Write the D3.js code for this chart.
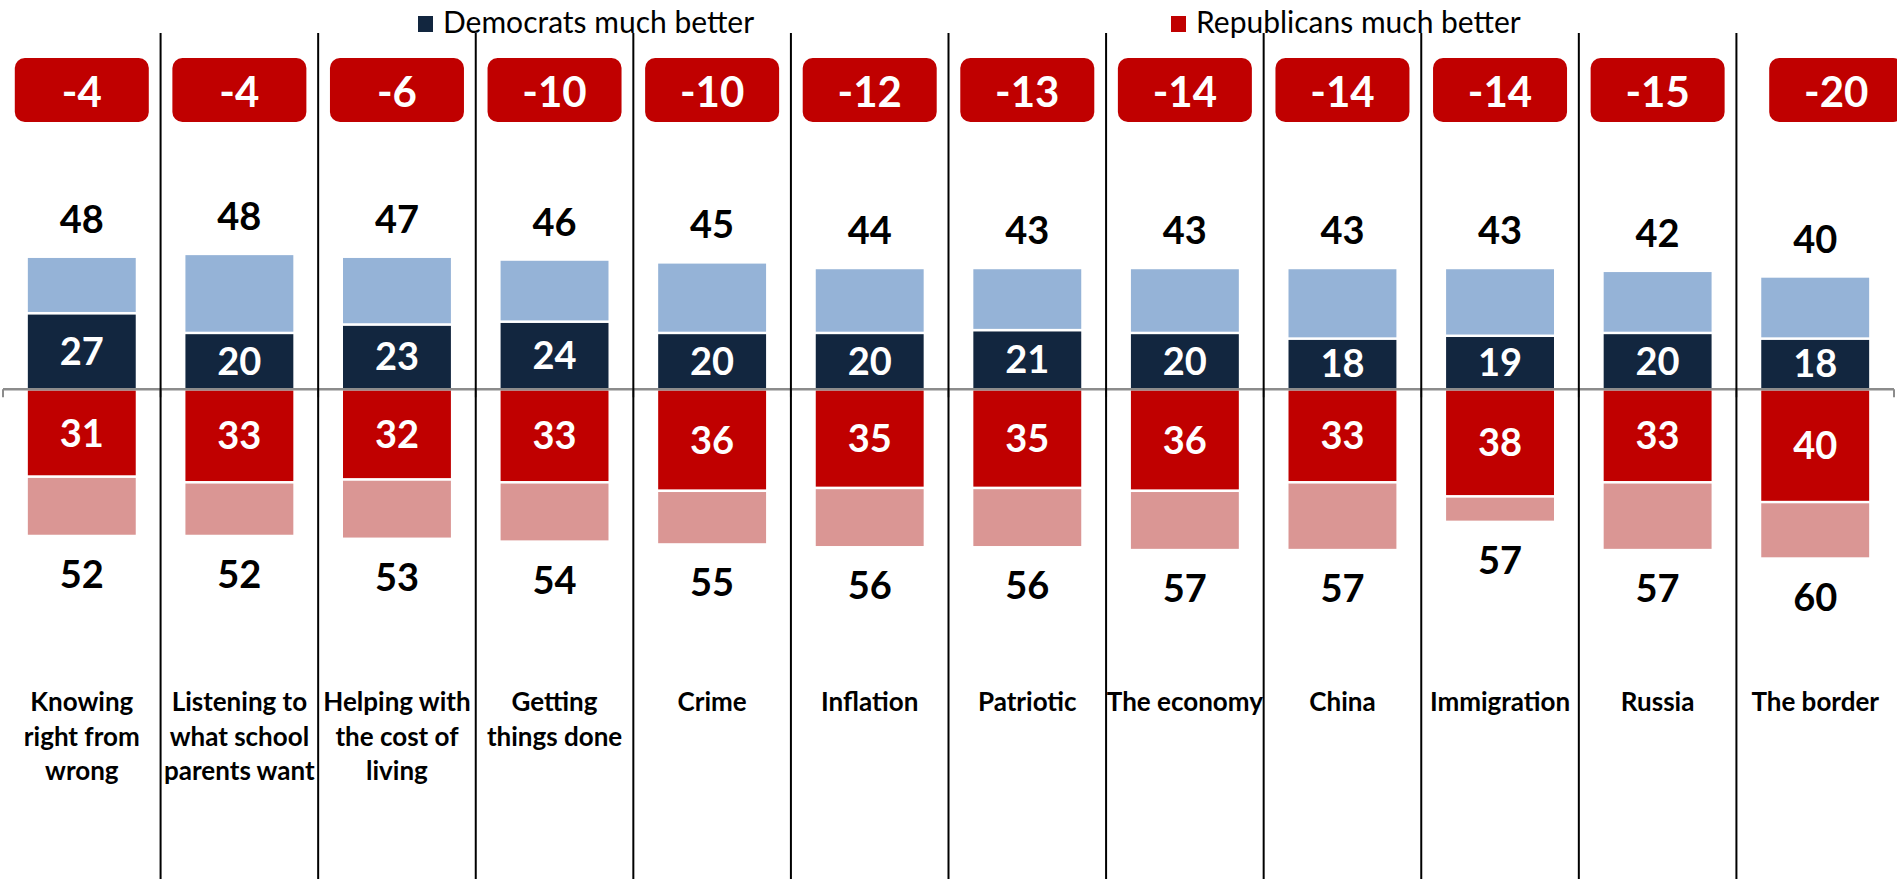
<!DOCTYPE html>
<html><head><meta charset="utf-8">
<script src="https://cdn.jsdelivr.net/npm/d3@7/dist/d3.min.js"></script>
<style>html,body{margin:0;padding:0;background:#fff;} svg{display:block;}</style>
</head><body>
<svg id="chart" width="1897" height="879"></svg>
<script>
// ---------------- data ----------------
const categories = [
  "Knowing\nright from\nwrong",
  "Listening to\nwhat school\nparents want",
  "Helping with\nthe cost of\nliving",
  "Getting\nthings done",
  "Crime",
  "Inflation",
  "Patriotic",
  "The economy",
  "China",
  "Immigration",
  "Russia",
  "The border"
];
const demMuchBetter     = [27, 20, 23, 24, 20, 20, 21, 20, 18, 19, 20, 18];
const demSomewhatBetter = [20, 28, 24, 22, 25, 23, 22, 23, 25, 24, 22, 22];
const repMuchBetter     = [31, 33, 32, 33, 36, 35, 35, 36, 33, 38, 33, 40];
const repSomewhatBetter = [21, 19, 21, 21, 19, 21, 21, 21, 24,  9, 24, 20];
const demTotalLabels    = [48, 48, 47, 46, 45, 44, 43, 43, 43, 43, 42, 40];
const repTotalLabels    = [52, 52, 53, 54, 55, 56, 56, 57, 57, 57, 57, 60];
const netLabels         = [-4, -4, -6, -10, -10, -12, -13, -14, -14, -14, -15, -20];
const legendLabels      = ["Democrats much better", "Republicans much better"];

// ---------------- setup ----------------
const W = 1897, H = 879;
const FONT = "Lato, 'Open Sans', 'Liberation Sans', sans-serif";
const C = {
  demMuch: "#12263F", demSome: "#95B3D7",
  repMuch: "#C00000", repSome: "#DA9694",
  axis: "#8C8C8C"
};
const svg = d3.select("#chart");
svg.append("rect").attr("width", W).attr("height", H).attr("fill", "#fff");

const n = categories.length;
const x = d3.scaleBand().domain(d3.range(n)).range([3, 1894])
  .paddingInner(0.3).paddingOuter(0.15);
const y = d3.scaleLinear().domain([-60, 60]).range([389.3 + 60 * 2.82, 389.3 - 60 * 2.82]);

const rows = d3.range(n).map(i => ({
  i,
  demMuch: demMuchBetter[i],
  demSome: demSomewhatBetter[i],
  repMuch: -repMuchBetter[i],
  repSome: -repSomewhatBetter[i]
}));
const keys = ["demMuch", "demSome", "repMuch", "repSome"];
const series = d3.stack().keys(keys).offset(d3.stackOffsetDiverging)(rows);

// ---------------- bars ----------------
const gBars = svg.append("g");
series.forEach(s => {
  gBars.selectAll(null).data(s).join("rect")
    .attr("x", d => x(d.data.i))
    .attr("width", x.bandwidth())
    .attr("y", d => y(Math.max(d[0], d[1])))
    .attr("height", d => Math.abs(y(d[0]) - y(d[1])))
    .attr("fill", C[s.key])
    .attr("stroke", "#fff")
    .attr("stroke-width", 2.4);
});

// ---------------- axis (ticks on category boundaries) ----------------
const bounds = d3.range(n + 1).map(i => x.range()[0] + i * x.step());
const gAxis = svg.append("g");
gAxis.append("line")
  .attr("x1", bounds[0]).attr("x2", bounds[n])
  .attr("y1", y(0)).attr("y2", y(0))
  .attr("stroke", C.axis).attr("stroke-width", 2.5);
gAxis.selectAll(null).data(bounds).join("line")
  .attr("x1", d => d).attr("x2", d => d)
  .attr("y1", y(0)).attr("y2", y(0) + 8)
  .attr("stroke", C.axis).attr("stroke-width", 2);

// ---------------- separators ----------------
svg.append("g").selectAll(null).data(bounds.slice(1, n)).join("line")
  .attr("x1", d => d).attr("x2", d => d)
  .attr("y1", 33).attr("y2", H)
  .attr("stroke", "#000").attr("stroke-width", 2);

// ---------------- value labels ----------------
const cx = i => x(i) + x.bandwidth() / 2;
const gLab = svg.append("g").attr("font-family", FONT).attr("font-weight", 700)
  .attr("text-anchor", "middle");

// inside navy
gLab.selectAll(null).data(rows).join("text")
  .attr("x", d => cx(d.i))
  .attr("y", d => (y(0) + y(d.demMuch)) / 2 + 13.5)
  .attr("font-size", 38).attr("fill", "#fff")
  .text(d => demMuchBetter[d.i]);
// inside red
gLab.selectAll(null).data(rows).join("text")
  .attr("x", d => cx(d.i))
  .attr("y", d => (y(0) + y(d.repMuch)) / 2 + 13.5)
  .attr("font-size", 38).attr("fill", "#fff")
  .text(d => repMuchBetter[d.i]);
// totals above
gLab.selectAll(null).data(rows).join("text")
  .attr("x", d => cx(d.i))
  .attr("y", d => y(d.demMuch + d.demSome) - 24)
  .attr("font-size", 38).attr("fill", "#000")
  .text(d => demTotalLabels[d.i]);
// totals below
gLab.selectAll(null).data(rows).join("text")
  .attr("x", d => cx(d.i))
  .attr("y", d => y(d.repMuch + d.repSome) + 52)
  .attr("font-size", 38).attr("fill", "#000")
  .text(d => repTotalLabels[d.i]);

// ---------------- net boxes ----------------
const boxW = 134, boxH = 64, boxY = 58;
const lastNudge = 21;
const boxX = i => cx(i) - boxW / 2 + (i === n - 1 ? lastNudge : 0);
const gBox = svg.append("g");
gBox.selectAll(null).data(netLabels).join("rect")
  .attr("x", (d, i) => boxX(i)).attr("y", boxY)
  .attr("width", boxW).attr("height", boxH)
  .attr("rx", 10).attr("ry", 10)
  .attr("fill", "#C00000");
gBox.selectAll(null).data(netLabels).join("text")
  .attr("x", (d, i) => boxX(i) + boxW / 2).attr("y", boxY + 48.5)
  .attr("text-anchor", "middle")
  .attr("font-family", FONT).attr("font-weight", 700)
  .attr("font-size", 42).attr("fill", "#fff")
  .text(d => String(d));

// ---------------- category labels ----------------
const gCat = svg.append("g").attr("font-family", FONT).attr("font-weight", 700)
  .attr("font-size", 26).attr("text-anchor", "middle").attr("fill", "#000");
categories.forEach((c, i) => {
  const t = gCat.append("text").attr("x", cx(i)).attr("y", 711);
  c.split("\n").forEach((line, k) => {
    t.append("tspan").attr("x", cx(i)).attr("dy", k === 0 ? 0 : 34.5).text(line);
  });
});

// ---------------- legend ----------------
const legendItems = [
  { label: legendLabels[0], color: C.demMuch, x: 418 },
  { label: legendLabels[1], color: C.repMuch, x: 1171 }
];
const gLeg = svg.append("g");
legendItems.forEach(it => {
  gLeg.append("rect").attr("x", it.x).attr("y", 16).attr("width", 15).attr("height", 16)
    .attr("fill", it.color);
  gLeg.append("text").attr("x", it.x + 25).attr("y", 33)
    .attr("font-family", FONT).attr("font-size", 30).attr("fill", "#000")
    .text(it.label);
});
</script>
</body></html>
